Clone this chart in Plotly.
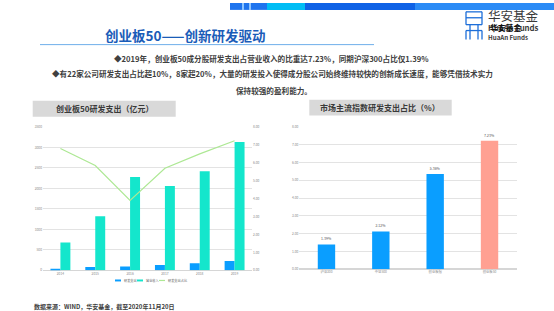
import plotly.graph_objects as go

W, H = 554, 311
def X(x): return x / W
def Y(y): return 1 - y / H

FONT = "Noto Sans CJK SC"

# ---- data ----
years = ["2014", "2015", "2016", "2017", "2018", "2019"]
rd_expense = [40, 80, 95, 130, 170, 230]          # 研发支出 (亿元)
revenue = [680, 1320, 2280, 2060, 2420, 3130]      # 营业收入 (亿元)
rd_ratio = [6.8, 5.85, 3.9, 5.7, 6.5, 7.23]        # 研发支出占比 (%)

indices = ["沪深300", "中证500", "创业板指", "创业板50"]
index_ratio = [1.39, 2.12, 5.36, 7.23]

left_ticks = [0, 500, 1000, 1500, 2000, 2500, 3000, 3500]
pct_ticks = [0, 1, 2, 3, 4, 5, 6, 7, 8]

BLUE = "#0A9EFF"
TEAL = "#14E6CC"
GREEN = "#ADE894"
SALMON = "#FFA092"
GRID = "#E3E3E3"
TICK = "#8A8A8A"

fig = go.Figure()

fig.add_trace(go.Bar(x=years, y=rd_expense, name="研发支出", marker=dict(color=BLUE, line=dict(width=0)),
                     offset=-0.286, width=0.286, xaxis="x", yaxis="y"))
fig.add_trace(go.Bar(x=years, y=revenue, name="营业收入", marker=dict(color=TEAL, line=dict(width=0)),
                     offset=0.0, width=0.286, xaxis="x", yaxis="y"))
fig.add_trace(go.Scatter(x=years, y=rd_ratio, name="研发支出占比", mode="lines",
                         line=dict(color=GREEN, width=1.2), xaxis="x", yaxis="y2"))

fig.add_trace(go.Bar(x=indices, y=index_ratio, width=0.32,
                     marker=dict(color=[BLUE, BLUE, BLUE, SALMON], line=dict(width=0)),
                     texttemplate="%{y:.2f}%", textposition="outside",
                     textfont=dict(size=3.5, color="#555555", family=FONT),
                     cliponaxis=False, xaxis="x3", yaxis="y3"))

tickfont = dict(size=3.3, color=TICK, family=FONT)

fig.update_layout(
    width=W, height=H, margin=dict(l=0, r=0, t=0, b=0),
    paper_bgcolor="white", plot_bgcolor="white",
    showlegend=False, bargap=0.4,
    font=dict(family=FONT),
    xaxis=dict(domain=[X(43), X(252)], type="category", tickfont=tickfont,
               showgrid=False, showline=False, ticks="", anchor="y"),
    yaxis=dict(domain=[Y(271.7), Y(126)], range=[0, 3500], tickvals=left_ticks,
               tickfont=tickfont, gridcolor=GRID, gridwidth=1, zeroline=True,
               zerolinecolor="#D6D6D6", zerolinewidth=1, anchor="x"),
    yaxis2=dict(domain=[Y(271.7), Y(126)], range=[0, 8], tickvals=pct_ticks,
                tickformat=".2f", ticksuffix="%", overlaying="y", side="right",
                anchor="x", showgrid=False, zeroline=False, tickfont=tickfont),
    xaxis3=dict(domain=[X(299.3), X(516.7)], type="category", tickfont=tickfont,
                showgrid=False, ticks="", anchor="y3"),
    yaxis3=dict(domain=[Y(270.5), Y(126)], range=[0, 8], tickvals=pct_ticks,
                tickformat=".2f", ticksuffix="%", tickfont=tickfont,
                gridcolor=GRID, gridwidth=1, zeroline=True, zerolinecolor="#D6D6D6",
                anchor="x3"),
)

shapes = []
# top stripes
stripes = [(230, 242, "#1E74EE"), (242, 244, "#8CC4FF"), (244, 249, "#1E74EE"),
           (249, 251, "#8CC4FF"), (251, 267, "#1E74EE"), (267, 305, "#00BDF5"),
           (305, 415, "#0F62E6"), (415, 554, "#2A8BF6")]
for x0, x1, c in stripes:
    shapes.append(dict(type="rect", xref="paper", yref="paper", x0=X(x0), x1=X(x1),
                       y0=Y(7), y1=Y(0), fillcolor=c, line=dict(width=0), layer="below"))
# title underline
shapes.append(dict(type="line", xref="paper", yref="paper", x0=X(40), x1=X(374),
                   y0=Y(42.3), y1=Y(42.3), line=dict(color="#6FAFEA", width=1)))
# grey title boxes
shapes.append(dict(type="rect", xref="paper", yref="paper", x0=X(32.7), x1=X(175.7),
                   y0=Y(115.7), y1=Y(99.3), fillcolor="#D9D9D9", line=dict(width=0), layer="below"))
shapes.append(dict(type="rect", xref="paper", yref="paper", x0=X(309.3), x1=X(451.7),
                   y0=Y(114.3), y1=Y(98.3), fillcolor="#D9D9D9", line=dict(width=0), layer="below"))
# logo icon
LOGO = "#1E6FD9"
def ln(x0, y0, x1, y1):
    shapes.append(dict(type="line", xref="paper", yref="paper", x0=X(x0), x1=X(x1),
                       y0=Y(y0), y1=Y(y1), line=dict(color=LOGO, width=1.3)))
ln(466, 9, 482, 9); ln(466, 9, 466, 22); ln(482, 9, 482, 22); ln(466, 15, 482, 15)
ln(466, 22, 482, 22)
ln(470, 22, 470, 37); ln(478, 22, 478, 37); ln(466, 28, 482, 28)
ln(466, 28, 466, 37); ln(482, 28, 482, 37)
# manual legend for left chart
shapes.append(dict(type="rect", xref="paper", yref="paper", x0=X(115), x1=X(121),
                   y0=Y(283), y1=Y(281), fillcolor=BLUE, line=dict(width=0)))
shapes.append(dict(type="rect", xref="paper", yref="paper", x0=X(137), x1=X(143),
                   y0=Y(283), y1=Y(281), fillcolor=TEAL, line=dict(width=0)))
shapes.append(dict(type="line", xref="paper", yref="paper", x0=X(159), x1=X(165),
                   y0=Y(282), y1=Y(282), line=dict(color=GREEN, width=1.2)))

anns = []
def txt(x, y, s, size, color="#404040", bold=False, xanchor="center", pad=1):
    anns.append(dict(xref="paper", yref="paper", x=X(x), y=Y(y), text=s, showarrow=False,
                     xanchor=xanchor, yanchor="middle", borderpad=pad,
                     font=dict(size=size, color=color, family=FONT, weight="bold" if bold else "normal")))

txt(185, 33, "创业板50——创新研发驱动", 13.5, color="#1A5CB8", bold=True)
txt(271, 56.5, "◆2019年，创业板50成分股研发支出占营业收入的比重达7.23%，同期沪深300占比仅1.39%", 7.6, bold=True)
txt(272, 72, "◆有22家公司研发支出占比超10%，8家超20%，大量的研发投入使得成分股公司始终维持较快的创新成长速度，能够凭借技术实力", 7.6, bold=True)
txt(274, 88.5, "保持较强的盈利能力。", 7.6, bold=True)
txt(104, 107.5, "创业板50研发支出（亿元）", 8, bold=True, color="#3A3A3A")
txt(380, 106.3, "市场主流指数研发支出占比（%）", 8, bold=True, color="#3A3A3A")
txt(32, 308.5, "数据来源：WIND，华安基金，截至2020年11月20日", 6, bold=True, color="#404040", xanchor="left")
# legend labels
txt(122, 282, "研发支出", 3.2, color="#666666", xanchor="left")
txt(144, 282, "营业收入", 3.2, color="#666666", xanchor="left")
txt(166, 282, "研发支出占比", 3.2, color="#666666", xanchor="left")
# logo text
txt(487, 13, "华安基金", 12.5, color="#3A3A3A", xanchor="left", pad=0)
txt(487, 24.5, "HuaAn Funds", 7.8, color="#3A3A3A", bold=True, xanchor="left", pad=0)
txt(489, 24.5, "华安基金", 7.8, color="#111111", bold=True, xanchor="left", pad=0)
txt(487, 35, "HuaAn Funds", 6.2, color="#3A3A3A", bold=True, xanchor="left", pad=0)

fig.update_layout(shapes=shapes, annotations=anns)
fig.write_html("out.html")
